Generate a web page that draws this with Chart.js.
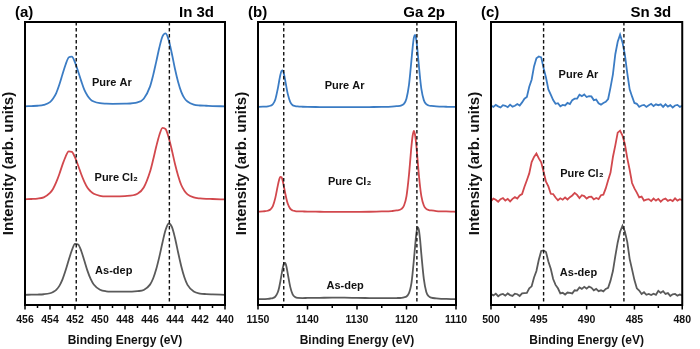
<!DOCTYPE html>
<html>
<head>
<meta charset="utf-8">
<script src="https://cdn.jsdelivr.net/npm/chart.js@4"></script>
<style>
html,body{margin:0;padding:0;background:#fff;}
#wrap{position:relative;width:700px;height:349px;overflow:hidden;background:#fff;}
canvas{position:absolute;top:0;}
</style>
</head>
<body>
<div id="wrap">
<canvas id="ca" width="245" height="349" style="left:0px;width:245px;height:349px"></canvas>
<canvas id="cb" width="245" height="349" style="left:233px;width:245px;height:349px"></canvas>
<canvas id="cc" width="234" height="349" style="left:466px;width:234px;height:349px"></canvas>
</div>
<script>
// ---------- DATA ----------
const seriesNames = ["Pure Ar", "Pure Cl\u2082", "As-dep"];

// (a) In 3d
const inX = [456,455.5,455,454.5,454,453.75,453.5,453.25,453,452.75,452.5,452.25,452,451.75,451.5,451.25,451,450.75,450.5,450,449.5,449,448,447,446.5,446,445.75,445.5,445.25,445,444.75,444.5,444.25,444,443.75,443.5,443.25,443,442.5,442,441.5,441,440];
const inAr = [70.2,70.3,70.4,70.7,71.7,73.0,74.9,77.9,81.5,85.0,87.5,87.8,85.75,82.5,79.1,76.0,73.95,72.6,71.9,71.3,71.15,71.1,71.15,71.6,72.9,77.15,81.15,86.0,91.0,94.9,95.95,93.55,88.8,83.4,78.8,75.3,73.1,71.9,70.8,70.5,70.4,70.3,70.2];
const inCl2 = [37.35,37.45,37.6,38.05,39.6,41.1,43.4,46.3,49.6,52.45,54.25,54.1,52.15,49.3,46.2,43.5,41.4,40.15,39.3,38.6,38.4,38.4,38.5,39.3,41.5,47.05,51.3,56.0,60.1,62.6,62.15,59.1,54.7,49.85,45.7,42.4,40.4,39.1,38.0,37.65,37.5,37.45,37.3];
const inAsdep = [3.6,3.65,3.7,3.8,4.15,4.6,5.35,6.75,9.05,12.25,15.9,19.35,21.6,21.4,19.1,15.6,12.05,9.2,7.25,5.4,4.85,4.75,4.7,4.9,5.3,7.2,9.35,12.7,17.1,22.1,26.6,28.8,27.6,23.7,18.55,13.7,9.8,7.1,4.75,4.05,3.85,3.75,3.6];
const inTicks = [456,454,452,450,448,446,444,442,440];
const inRefLines = [451.9,444.45];

// (b) Ga 2p
const gaX = [1150,1149,1148,1147.5,1147,1146.5,1146,1145.75,1145.5,1145.25,1145,1144.75,1144.5,1144.25,1144,1143.5,1143,1142.5,1142,1141,1140,1137.5,1135,1132.5,1130,1127.5,1125,1123,1122,1121,1120.5,1120,1119.5,1119.25,1119,1118.75,1118.5,1118.25,1118,1117.75,1117.5,1117.25,1117,1116.5,1116,1115.5,1115,1114,1113,1112,1111,1110];
const gaAr = [70.0,70.1,70.2,70.4,70.95,72.65,76.45,78.9,81.2,82.7,82.9,81.55,79.4,76.9,74.7,71.8,70.6,70.3,70.15,70.05,70.0,69.95,69.9,69.9,69.9,69.95,70.0,70.1,70.25,70.55,71.1,73.0,77.8,81.9,86.5,91.15,94.55,95.4,93.45,89.4,84.6,80.1,76.4,72.4,70.95,70.5,70.35,70.15,70.1,70.05,70.0,70.0];
const gaCl2 = [33.0,33.1,33.3,33.75,34.95,37.85,42.2,44.1,45.3,45.15,43.8,41.7,39.5,37.45,35.85,34.05,33.4,33.2,33.1,33.05,33.0,32.95,32.9,32.9,32.9,32.95,33.05,33.2,33.4,33.95,35.15,38.5,46.0,51.0,56.1,59.9,61.5,59.9,56.1,51.0,46.0,41.7,38.5,35.15,33.95,33.55,33.4,33.2,33.1,33.05,33.0,32.95];
const gaAsdep = [2.1,2.1,2.2,2.3,2.45,2.95,4.5,6.0,8.2,10.65,13.1,14.65,14.85,13.5,11.2,6.5,3.75,2.8,2.5,2.45,2.5,2.55,2.6,2.6,2.5,2.45,2.4,2.4,2.45,2.55,2.7,3.0,4.2,5.6,7.7,11.5,16.1,21.0,25.4,27.5,26.5,23.0,18.0,9.25,4.6,3.1,2.6,2.35,2.2,2.15,2.1,2.05];
const gaTicks = [1150,1140,1130,1120,1110];
const gaRefLines = [1144.8,1117.9];

// (c) Sn 3d
const snX = [500,499.75,499.5,499.25,499,498.75,498.5,498.25,498,497.75,
497.5,497.25,497,496.75,496.5,496.25,496,495.75,495.5,495.25,
495,494.75,494.5,494.25,494,493.75,493.5,493.25,493,492.75,
492.5,492.25,492,491.75,491.5,491.25,491,490.75,490.5,490.25,
490,489.75,489.5,489.25,489,488.75,488.5,488.25,488,487.75,
487.5,487.25,487,486.75,486.5,486.25,486,485.75,485.5,485.25,
485,484.75,484.5,484.25,484,483.75,483.5,483.25,483,482.75,
482.5,482.25,482,481.75,481.5,481.25,481,480.75,480.5,480.25,
480];
const snAr = [70.5,70.0,70.7,70.2,69.8,70.6,70.4,69.9,70.8,70.1,
70.4,71.0,70.5,71.6,72.9,73.5,77.1,79.6,84.3,87.2,
87.8,87.5,83.7,80.4,76.2,74.3,72.4,71.1,71.3,70.2,
70.7,70.5,71.4,71.0,72.4,72.9,72.9,74.3,73.8,74.4,
73.5,73.8,73.7,72.4,72.6,71.3,70.8,71.4,71.8,72.8,
76.9,81.5,88.6,93.0,95.5,92.8,88.5,81.9,76.2,73.7,
71.4,71.1,70.0,70.5,70.7,70.0,70.6,71.1,70.3,70.9,
70.6,70.9,70.0,70.9,70.1,70.6,69.8,70.5,70.7,70.0,
70.4];
const snCl2 = [36.7,37.6,37.2,36.5,37.4,37.8,36.9,37.5,36.6,37.5,
38.1,37.6,38.7,39.2,41.8,44.1,46.5,50.5,52.3,53.5,
51.8,50.4,47.1,43.6,41.9,39.3,39.2,38.0,37.0,37.7,
37.2,38.0,37.3,38.1,38.7,39.6,38.9,37.8,38.8,38.5,
37.6,38.2,38.3,37.3,37.8,37.4,38.8,39.0,41.2,44.1,
46.8,52.3,56.4,60.9,61.6,59.9,56.9,51.9,47.8,43.1,
41.2,39.7,38.0,38.3,36.9,37.2,37.4,36.7,37.6,36.9,
37.5,36.5,37.3,37.6,36.8,37.2,36.7,37.7,36.9,37.4,
37.0];
const snAsdep = [3.9,3.4,4.0,3.1,3.7,3.9,3.3,4.1,3.5,3.2,
4.0,3.8,3.2,4.1,4.2,4.3,5.9,6.6,9.7,12.0,
16.0,19.1,19.3,18.7,15.4,12.8,9.2,7.1,5.9,4.1,
4.3,3.7,4.4,4.3,4.1,5.2,5.1,6.2,5.7,6.4,
5.8,6.5,6.1,5.2,5.7,4.9,5.2,4.8,5.7,6.1,
8.6,12.0,17.3,22.1,25.9,28.0,26.0,22.3,16.3,12.6,
8.8,5.9,5.1,3.9,4.5,3.6,3.9,3.5,4.0,3.6,
5.0,4.3,4.9,3.9,4.2,3.2,3.8,3.9,3.3,3.7,
3.4];
const snTicks = [500,495,490,485,480];
const snRefLines = [494.5,486.1];

// ---------- STYLE / LAYOUT ----------
const FONT = "'Liberation Sans', Arial, Helvetica, sans-serif";
const COLORS = ['#3b7cc4', '#d2484d', '#5a5a5a'];

const panels = [
  {id:'ca', xs:inX, ys:[inAr,inCl2,inAsdep], ticks:inTicks, minor:1, refs:inRefLines,
   letter:'(a)', title:'In 3d', padRight:20, smooth:true,
   labelPos:[[449.05,78.5],[448.7,45],[448.9,12]]},
  {id:'cb', xs:gaX, ys:[gaAr,gaCl2,gaAsdep], ticks:gaTicks, minor:5, refs:gaRefLines,
   letter:'(b)', title:'Ga 2p', padRight:22, smooth:true,
   labelPos:[[1132.5,77.5],[1131.5,43.5],[1132.4,6.8]]},
  {id:'cc', xs:snX, ys:[snAr,snCl2,snAsdep], ticks:snTicks, minor:2.5, refs:snRefLines,
   letter:'(c)', title:'Sn 3d', padRight:11, smooth:false,
   labelPos:[[490.85,81.4],[490.5,46.3],[490.85,11.3]]}
];

const deco = {
  id: 'deco',
  afterDatasetsDraw(chart, args, o) {
    const ctx = chart.ctx, a = chart.chartArea, x = chart.scales.x, y = chart.scales.y;
    ctx.save();
    // reference dashed lines
    ctx.strokeStyle = '#111';
    ctx.lineWidth = 1.4;
    ctx.setLineDash([3.5, 2.5]);
    o.refs.forEach(v => {
      const px = x.getPixelForValue(v);
      ctx.beginPath(); ctx.moveTo(px, a.top); ctx.lineTo(px, a.bottom); ctx.stroke();
    });
    ctx.setLineDash([]);
    // frame
    ctx.strokeStyle = '#000';
    ctx.lineWidth = 2;
    ctx.strokeRect(a.left, a.top, a.right - a.left, a.bottom - a.top);
    // tick marks (major from tick list, minor halfway)
    ctx.lineWidth = 1.5;
    const t = o.ticks;
    for (let i = 0; i < t.length; i++) {
      const px = x.getPixelForValue(t[i]);
      ctx.beginPath(); ctx.moveTo(px, a.bottom); ctx.lineTo(px, a.bottom + 4.5); ctx.stroke();
      if (i < t.length - 1) {
        const mx = x.getPixelForValue(t[i] + (t[i+1] > t[i] ? o.minor : -o.minor));
        ctx.beginPath(); ctx.moveTo(mx, a.bottom); ctx.lineTo(mx, a.bottom + 3); ctx.stroke();
      }
    }
    // series labels
    ctx.fillStyle = '#111';
    ctx.font = 'bold 11px ' + FONT;
    ctx.textAlign = 'center';
    ctx.textBaseline = 'middle';
    o.labelPos.forEach((p, i) => {
      ctx.fillText(seriesNames[i], x.getPixelForValue(p[0]), y.getPixelForValue(p[1]));
    });
    // panel letter and title
    ctx.fillStyle = '#000';
    ctx.font = 'bold 15px ' + FONT;
    ctx.textAlign = 'left';
    ctx.fillText(o.letter, a.left - 10, 13);
    ctx.textAlign = 'right';
    ctx.fillText(o.title, a.right - 11, 13);
    // y axis title
    ctx.save();
    ctx.translate(a.left - 16, (a.top + a.bottom) / 2);
    ctx.rotate(-Math.PI / 2);
    ctx.textAlign = 'center';
    ctx.textBaseline = 'middle';
    ctx.font = 'bold 15px ' + FONT;
    ctx.fillStyle = '#111';
    ctx.fillText('Intensity (arb. units)', 0, 0);
    ctx.restore();
    ctx.restore();
  }
};

panels.forEach(p => {
  const tmin = Math.min(...p.ticks), tmax = Math.max(...p.ticks);
  new Chart(document.getElementById(p.id), {
    type: 'line',
    data: {
      datasets: p.ys.map((vals, k) => ({
        label: seriesNames[k],
        data: p.xs.map((v, i) => ({x: v, y: vals[i]})),
        borderColor: COLORS[k],
        borderWidth: 1.8,
        pointRadius: 0,
        fill: false,
        cubicInterpolationMode: p.smooth ? 'monotone' : 'default',
        tension: 0
      }))
    },
    options: {
      responsive: false,
      animation: false,
      devicePixelRatio: 1,
      layout: {padding: {left: 25, right: p.padRight, top: 22, bottom: 0}},
      plugins: {
        legend: {display: false},
        tooltip: {enabled: false},
        deco: {refs: p.refs, ticks: p.ticks, minor: p.minor, labelPos: p.labelPos, letter: p.letter, title: p.title}
      },
      scales: {
        x: {
          type: 'linear', reverse: true, min: tmin, max: tmax,
          afterFit(s) { s.height = 44; },
          afterBuildTicks(s) { s.ticks = p.ticks.map(v => ({value: v})); },
          grid: {display: false, drawTicks: false},
          border: {display: false},
          ticks: {autoSkip: false, maxRotation: 0, padding: 9, color: '#111',
                  font: {family: FONT, size: 10.5, weight: 'bold'},
                  callback: v => String(v)},
          title: {display: true, text: 'Binding Energy (eV)', color: '#111',
                  font: {family: FONT, size: 12, weight: 'bold'}, padding: {top: 0, bottom: 1}}
        },
        y: {display: false, min: 0, max: 100}
      }
    },
    plugins: [deco]
  });
});
</script>
</body>
</html>
